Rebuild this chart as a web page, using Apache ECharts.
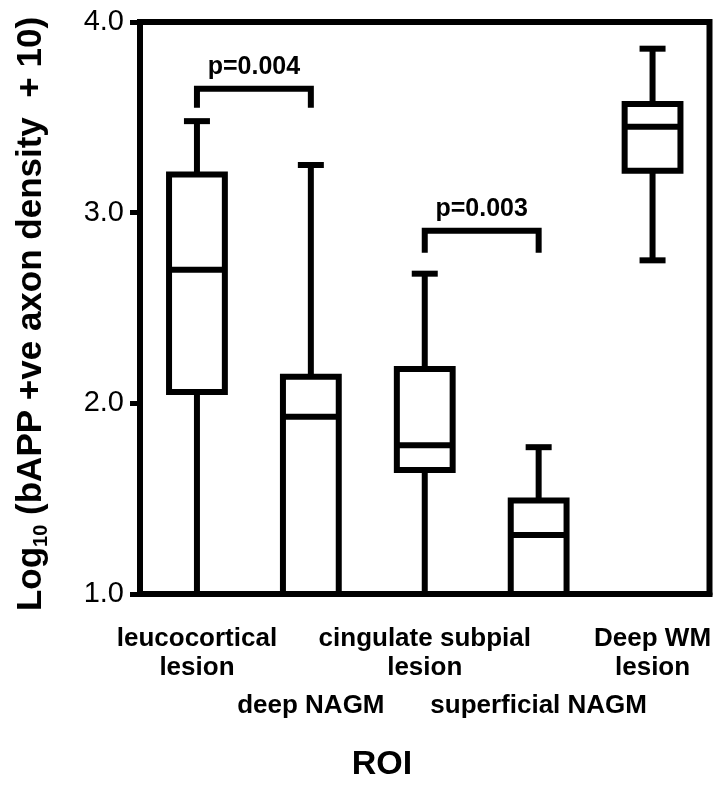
<!DOCTYPE html>
<html><head><meta charset="utf-8">
<script src="https://cdn.jsdelivr.net/npm/echarts@6/dist/echarts.min.js"></script>
<style>html,body{margin:0;padding:0;background:#fff}#c{width:724px;height:785px}</style>
</head><body><div id="c"></div>
<script>
// ---- data ----
const categories = ['leucocortical\nlesion', 'deep NAGM', 'cingulate subpial\nlesion', 'superficial NAGM', 'Deep WM\nlesion'];
const minVals    = [1.00, 1.00, 1.00, 1.00, 2.75];
const q1Vals     = [2.06, 1.00, 1.65, 1.00, 3.22];
const medianVals = [2.70, 1.93, 1.78, 1.31, 3.45];
const q3Vals     = [3.20, 2.14, 2.18, 1.49, 3.57];
const maxVals    = [3.48, 3.25, 2.68, 1.77, 3.86];
const yMin = 1, yMax = 4, yInterval = 1;
const bracketFrom   = [0, 2];
const bracketTo     = [1, 3];
const bracketTop    = [3.65, 2.905];
const bracketLeg    = [3.55, 2.79];
const bracketLabels = ['p=0.004', 'p=0.003'];
const yTitle = 'Log10 (bAPP +ve axon density  + 10)';
const xTitle = 'ROI';

// ---- chart ----
const FONT = '"Liberation Sans", Arial, Helvetica, sans-serif';
const LW = 6;
const chart = echarts.init(document.getElementById('c'), null, {renderer: 'canvas'});

const boxData = categories.map((c, i) => [i, minVals[i], q1Vals[i], medianVals[i], q3Vals[i], maxVals[i]]);
const bracketData = bracketFrom.map((f, k) => [f, bracketTo[k], bracketTop[k], bracketLeg[k], k]);

function renderBox(params, api) {
  const i = api.value(0);
  const x = api.coord([i, api.value(3)])[0];
  const band = api.size([1, 0])[0];
  const bw = band * 0.49;
  const cw = 26;
  const yMn = api.coord([i, api.value(1)])[1];
  const yQ1 = api.coord([i, api.value(2)])[1];
  const yMd = api.coord([i, api.value(3)])[1];
  const yQ3 = api.coord([i, api.value(4)])[1];
  const yMx = api.coord([i, api.value(5)])[1];
  const ls = {stroke: '#000', lineWidth: LW, fill: 'none'};
  return {type: 'group', children: [
    {type: 'line', shape: {x1: x, y1: yMx, x2: x, y2: yQ3}, style: ls},
    {type: 'line', shape: {x1: x - cw / 2, y1: yMx, x2: x + cw / 2, y2: yMx}, style: ls},
    {type: 'line', shape: {x1: x, y1: yQ1, x2: x, y2: yMn}, style: ls},
    {type: 'line', shape: {x1: x - cw / 2, y1: yMn, x2: x + cw / 2, y2: yMn}, style: ls},
    {type: 'rect', shape: {x: x - bw / 2, y: yQ3, width: bw, height: yQ1 - yQ3}, style: {stroke: '#000', lineWidth: LW, fill: 'none', lineJoin: 'miter'}},
    {type: 'line', shape: {x1: x - bw / 2, y1: yMd, x2: x + bw / 2, y2: yMd}, style: ls}
  ]};
}

function renderBracket(params, api) {
  const f = api.value(0), t = api.value(1), top = api.value(2), leg = api.value(3), k = api.value(4);
  const p0 = api.coord([f, leg]), p1 = api.coord([f, top]), p2 = api.coord([t, top]), p3 = api.coord([t, leg]);
  return {type: 'group', children: [
    {type: 'polyline', shape: {points: [p0, p1, p2, p3]}, style: {stroke: '#000', lineWidth: LW, fill: 'none', lineJoin: 'miter'}},
    {type: 'text', x: (p1[0] + p2[0]) / 2, y: p1[1] - 22, style: {text: bracketLabels[k], fontSize: 25, fontWeight: 'bold', fontFamily: FONT, fill: '#000', align: 'center', verticalAlign: 'middle'}}
  ]};
}

const option = {
  animation: false,
  backgroundColor: '#fff',
  grid: {left: 140, right: 14.5, top: 22, bottom: 191, show: true, borderColor: '#000', borderWidth: LW, backgroundColor: 'transparent'},
  xAxis: {
    type: 'category', data: categories,
    axisLine: {lineStyle: {color: '#000', width: LW}},
    axisTick: {alignWithLabel: true, length: 11, lineStyle: {color: '#000', width: 5}},
    axisLabel: {
      interval: 0, margin: 30, color: '#000',
      formatter: (v, i) => i % 2 === 1 ? '{gap| }\n{t|' + v + '}' : v.split('\n').map(s => '{t|' + s + '}').join('\n'),
      rich: {
        t: {fontSize: 26, fontWeight: 'bold', fontFamily: FONT, color: '#000', lineHeight: 29},
        gap: {fontSize: 10, lineHeight: 67}
      }
    }
  },
  yAxis: {
    type: 'value', min: yMin, max: yMax, interval: yInterval,
    axisLine: {show: true, lineStyle: {color: '#000', width: LW}},
    axisTick: {show: true, length: 10, lineStyle: {color: '#000', width: 5}},
    splitLine: {show: false},
    axisLabel: {formatter: v => v.toFixed(1), fontSize: 29, color: '#000', margin: 16, fontFamily: FONT}
  },
  graphic: [
    {type: 'text', x: 31, y: 314, rotation: Math.PI / 2,
     style: {text: '{a|Log}{s|10}{a|' + yTitle.slice(5) + '}', align: 'center', verticalAlign: 'middle', fill: '#000',
             rich: {a: {fontSize: 35, fontWeight: 'bold', fontFamily: FONT, lineHeight: 40, fill: '#000'},
                    s: {fontSize: 20, fontWeight: 'bold', fontFamily: FONT, lineHeight: 24, verticalAlign: 'bottom', fill: '#000'}}}},
    {type: 'text', x: 382, y: 765,
     style: {text: xTitle, fontSize: 34, fontWeight: 'bold', fontFamily: FONT, fill: '#000', align: 'center', verticalAlign: 'middle'}}
  ],
  series: [
    {type: 'custom', renderItem: renderBox, data: boxData, encode: {x: 0, y: [1, 2, 3, 4, 5]}, z: 3},
    {type: 'custom', renderItem: renderBracket, data: bracketData, encode: {x: [0, 1], y: [2, 3]}, z: 3}
  ]
};
chart.setOption(option);
</script></body></html>
